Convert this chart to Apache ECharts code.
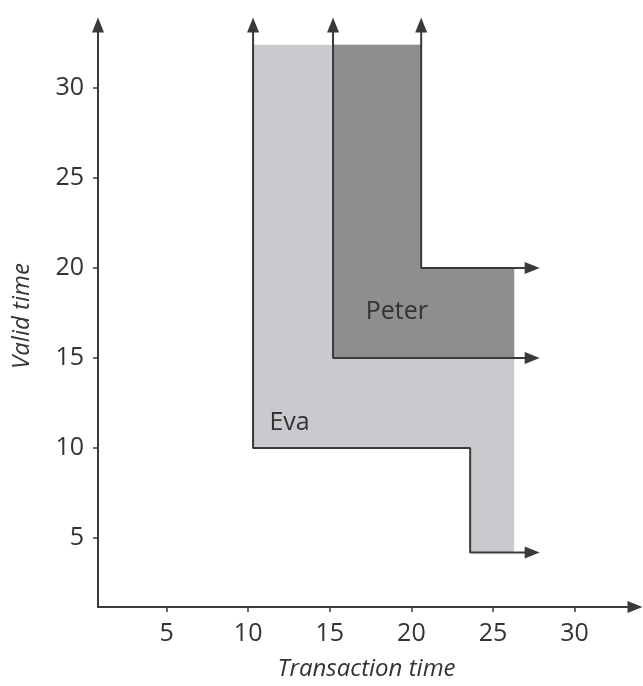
<!DOCTYPE html>
<html>
<head>
<meta charset="utf-8">
<title>Bitemporal validity</title>
<script src="https://cdn.jsdelivr.net/npm/echarts@6/dist/echarts.min.js"></script>
<style>
  html, body { margin: 0; padding: 0; background: #ffffff; }
  #chart { width: 643px; height: 686px; }
</style>
</head>
<body>
<div id="chart"></div>
<script>
// Tick positions on both axes
const xTicks = [5, 10, 15, 20, 25, 30];
const yTicks = [5, 10, 15, 20, 25, 30];

// Shaded regions (transaction time, valid time) vertices
const evaArea = [[10.3, 10], [23.6, 10], [23.6, 4.2], [26.3, 4.2], [26.3, 20], [20.6, 20], [20.6, 32.4], [10.3, 32.4]];
const peterArea = [[15.2, 15], [26.3, 15], [26.3, 20], [20.6, 20], [20.6, 32.4], [15.2, 32.4]];

// Boundary lines, each ending in an open-ended arrow
const evaEdge = [[10.3, 33.5], [10.3, 10], [23.6, 10], [23.6, 4.2], [27.4, 4.2]];
const peterEdge = [[15.2, 33.5], [15.2, 15], [27.4, 15]];
const peterUpperEdge = [[20.6, 33.5], [20.6, 20], [27.4, 20]];

// Region names and where they are written
const regionNames = ['Eva', 'Peter'];
const regionLabelPos = [[11.3, 11.4], [17.2, 17.55]];
const regionFill = ['#c9cacd', '#8e8e90'];
const regionShapes = [evaArea, peterArea];

const ink = '#3a3a3a';
const font = '"Open Sans", "DejaVu Sans", sans-serif';

function edgeData(pts) {
  return pts.map(function (p, i) {
    if (i === 0) {
      return { value: p, symbol: 'triangle', symbolRotate: 0 };
    }
    if (i === pts.length - 1) {
      return { value: p, symbol: 'triangle', symbolRotate: -90 };
    }
    return { value: p, symbol: 'none' };
  });
}

function edgeSeries(pts) {
  return {
    type: 'line',
    data: edgeData(pts),
    symbolSize: [12, 15],
    showSymbol: true,
    itemStyle: { color: ink },
    lineStyle: { color: ink, width: 2 },
    z: 5,
    silent: true
  };
}

const chart = echarts.init(document.getElementById('chart'), null, { renderer: 'canvas' });

chart.setOption({
  animation: false,
  backgroundColor: '#ffffff',
  grid: { left: 98, right: 8, top: 25, bottom: 79, containLabel: false },
  xAxis: {
    type: 'value',
    min: 0.8,
    max: 33.7,
    name: 'Transaction time',
    nameLocation: 'middle',
    nameGap: 50,
    nameTextStyle: { fontFamily: font, fontStyle: 'italic', fontSize: 24, color: '#333' },
    axisLine: {
      show: true,
      onZero: false,
      symbol: ['none', 'triangle'],
      symbolSize: [12, 15],
      lineStyle: { color: ink, width: 2 }
    },
    axisTick: { show: true, customValues: xTicks, length: 5, lineStyle: { color: ink, width: 1.5 } },
    axisLabel: { customValues: xTicks, fontFamily: font, fontSize: 25, color: '#333', margin: 14 },
    splitLine: { show: false }
  },
  yAxis: {
    type: 'value',
    min: 1.17,
    max: 33.5,
    name: 'Valid time',
    nameLocation: 'middle',
    nameRotate: 90,
    nameGap: 64,
    nameTextStyle: { fontFamily: font, fontStyle: 'italic', fontSize: 24, color: '#333' },
    axisLine: {
      show: true,
      onZero: false,
      symbol: ['none', 'triangle'],
      symbolSize: [12, 15],
      lineStyle: { color: ink, width: 2 }
    },
    axisTick: { show: true, customValues: yTicks, length: 5, lineStyle: { color: ink, width: 1.5 } },
    axisLabel: { customValues: yTicks, fontFamily: font, fontSize: 25, color: '#333', margin: 14 },
    splitLine: { show: false }
  },
  series: [
    {
      type: 'custom',
      coordinateSystem: 'cartesian2d',
      data: regionNames.map(function (n, i) { return [i]; }),
      encode: { x: [], y: [] },
      z: 2,
      silent: true,
      renderItem: function (params, api) {
        const i = api.value(0);
        const pts = regionShapes[i].map(function (p) { return api.coord(p); });
        const lp = api.coord(regionLabelPos[i]);
        return {
          type: 'group',
          children: [
            {
              type: 'polygon',
              shape: { points: pts },
              style: { fill: regionFill[i], stroke: null }
            },
            {
              type: 'text',
              x: lp[0],
              y: lp[1],
              style: {
                text: regionNames[i],
                fill: '#333',
                font: '25px ' + font,
                align: 'left',
                verticalAlign: 'middle'
              },
              z2: 10
            }
          ]
        };
      }
    },
    edgeSeries(evaEdge),
    edgeSeries(peterEdge),
    edgeSeries(peterUpperEdge)
  ]
});
</script>
</body>
</html>
